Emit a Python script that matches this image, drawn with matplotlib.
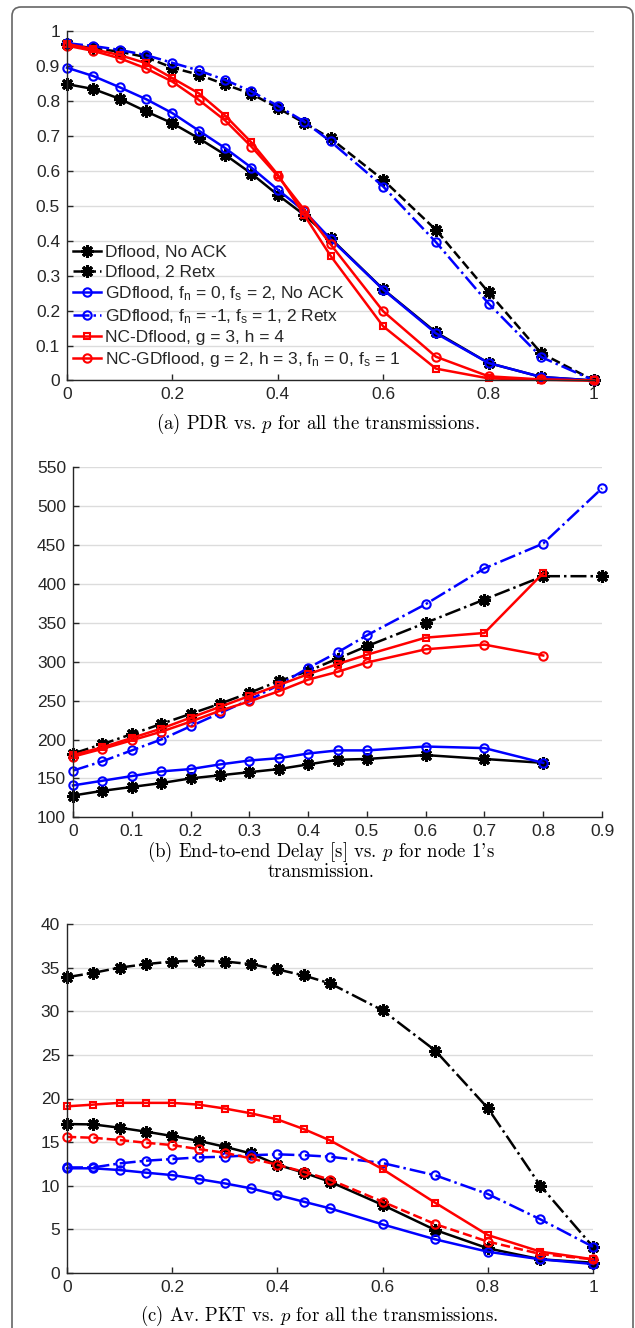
import matplotlib
matplotlib.use("Agg")
import matplotlib.pyplot as plt
from matplotlib.patches import FancyBboxPatch
from matplotlib.transforms import IdentityTransform

# p values
p_full = [0, 0.05, 0.1, 0.15, 0.2, 0.25, 0.3, 0.35, 0.4, 0.45, 0.5, 0.6, 0.7, 0.8, 0.9, 1.0]
p_delay = [0, 0.05, 0.1, 0.15, 0.2, 0.25, 0.3, 0.35, 0.4, 0.45, 0.5, 0.6, 0.7, 0.8]
p_delay_long = p_delay + [0.9]

# (a) PDR
pdr_dflood = [0.848, 0.834, 0.806, 0.770, 0.736, 0.693, 0.646, 0.592, 0.531, 0.474, 0.407, 0.261, 0.138, 0.050, 0.010, 0.0]
pdr_dflood_retx = [0.963, 0.950, 0.941, 0.925, 0.895, 0.875, 0.847, 0.820, 0.780, 0.737, 0.693, 0.574, 0.431, 0.252, 0.078, 0.0]
pdr_gd = [0.895, 0.871, 0.839, 0.805, 0.765, 0.715, 0.665, 0.609, 0.546, 0.485, 0.405, 0.260, 0.135, 0.050, 0.010, 0.0]
pdr_gd_retx = [0.965, 0.957, 0.946, 0.931, 0.909, 0.887, 0.860, 0.827, 0.786, 0.741, 0.684, 0.555, 0.396, 0.220, 0.067, 0.0]
pdr_nc = [0.963, 0.948, 0.931, 0.908, 0.865, 0.822, 0.758, 0.681, 0.589, 0.474, 0.357, 0.155, 0.034, 0.006, 0.002, 0.0]
pdr_ncgd = [0.958, 0.943, 0.922, 0.893, 0.855, 0.803, 0.744, 0.669, 0.585, 0.489, 0.390, 0.198, 0.068, 0.012, 0.003, 0.0]

# (b) delay
delay_dflood = [128, 134, 139, 144, 150, 154, 158, 162, 168, 174, 175, 180, 175, 170]
delay_dflood_retx = [182, 194, 207, 220, 233, 246, 260, 275, 288, 304, 320, 350, 380, 410, 410]
delay_gd = [141, 147, 153, 159, 162, 168, 173, 176, 182, 186, 186, 191, 189, 170]
delay_gd_retx = [160, 172, 186, 200, 217, 234, 251, 270, 292, 312, 334, 374, 420, 452, 523]
delay_nc = [180, 190, 202, 214, 228, 242, 256, 270, 284, 297, 309, 331, 337, 414]
delay_ncgd = [178, 188, 199, 210, 223, 237, 249, 262, 277, 287, 299, 316, 322, 308]

# (c) Av. PKT
pkt_dflood = [17.07, 17.03, 16.65, 16.2, 15.7, 15.15, 14.47, 13.7, 12.4, 11.5, 10.46, 7.8, 4.93, 2.83, 1.57, 1.18]
pkt_dflood_retx = [33.9, 34.4, 35.0, 35.4, 35.7, 35.8, 35.7, 35.4, 34.8, 34.1, 33.2, 30.1, 25.5, 18.9, 10.0, 3.0]
pkt_gd = [12.0, 12.0, 11.8, 11.5, 11.22, 10.77, 10.27, 9.7, 8.94, 8.17, 7.41, 5.57, 3.86, 2.44, 1.57, 1.03]
pkt_gd_retx = [12.1, 12.1, 12.56, 12.87, 13.06, 13.25, 13.33, 13.5, 13.6, 13.5, 13.33, 12.6, 11.2, 9.05, 6.15, 3.0]
pkt_nc = [19.1, 19.3, 19.5, 19.5, 19.5, 19.3, 18.85, 18.3, 17.6, 16.5, 15.2, 11.9, 8.05, 4.35, 2.45, 1.57]
pkt_ncgd = [15.6, 15.5, 15.24, 14.93, 14.66, 14.2, 13.78, 13.13, 12.4, 11.6, 10.7, 8.17, 5.6, 3.6, 2.18, 1.57]

labels = [
    "Dflood, No ACK",
    "Dflood, 2 Retx",
    r"GDflood, $\mathregular{f_n}$ = 0, $\mathregular{f_s}$ = 2, No ACK",
    r"GDflood, $\mathregular{f_n}$ = -1, $\mathregular{f_s}$ = 1, 2 Retx",
    "NC-Dflood, g = 3, h = 4",
    r"NC-GDflood, g = 2, h = 3, $\mathregular{f_n}$ = 0, $\mathregular{f_s}$ = 1",
]

plt.rcParams["font.family"] = ["Liberation Sans", "DejaVu Sans"]
plt.rcParams["mathtext.fontset"] = "cm"

TICK_COLOR = "#262626"
STAR = (8, 2, 0)


def style_axes(ax, xlim, ylim, xticks, yticks, xticklabels, yticklabels):
    ax.set_xlim(*xlim)
    ax.set_ylim(*ylim)
    ax.set_xticks(xticks)
    ax.set_yticks(yticks)
    ax.set_xticklabels(xticklabels)
    ax.set_yticklabels(yticklabels)
    for side in ("top", "right"):
        ax.spines[side].set_visible(False)
    for side in ("left", "bottom"):
        ax.spines[side].set_color(TICK_COLOR)
        ax.spines[side].set_linewidth(1.0)
    ax.tick_params(direction="in", length=4, width=1.0, colors=TICK_COLOR,
                   labelsize=12.5, pad=5)
    ax.yaxis.grid(True, color="#dcdcdc", linewidth=1.0)
    ax.set_axisbelow(True)


def draw(ax, x, y, color, ls, marker, ms, label=None):
    mew = 2.2 if marker == STAR else 1.5
    ax.plot(x, y, color=color, linestyle=ls, linewidth=1.8, marker=marker,
            markersize=ms, markerfacecolor="none" if marker != STAR else color,
            markeredgecolor=color, markeredgewidth=mew, clip_on=False,
            label=label)


fig = plt.figure(figsize=(6.35, 13.28), dpi=100)

frame = FancyBboxPatch((12, -30), 621, 1321 + 30,
                       boxstyle="round,pad=0,rounding_size=9",
                       transform=IdentityTransform(), facecolor="none",
                       edgecolor="#666666", linewidth=1.2)
fig.patches.append(frame)

H = 1328.0
W = 635.0


def axes_px(left, right, top, bottom):
    return fig.add_axes([left / W, 1 - bottom / H, (right - left) / W, (bottom - top) / H])


# (a)
ax_a = axes_px(67, 594, 31, 380.5)
draw(ax_a, p_full, pdr_dflood, "black", "-", STAR, 9, labels[0])
draw(ax_a, p_full, pdr_dflood_retx, "black", "--", STAR, 9, labels[1])
draw(ax_a, p_full, pdr_gd, "blue", "-", "o", 6, labels[2])
draw(ax_a, p_full, pdr_gd_retx, "blue", "-.", "o", 6, labels[3])
draw(ax_a, p_full, pdr_nc, "red", "-", "s", 5, labels[4])
draw(ax_a, p_full, pdr_ncgd, "red", "-", "o", 6, labels[5])
style_axes(ax_a, (0, 1), (0, 1), [0, 0.2, 0.4, 0.6, 0.8, 1],
           [i / 10 for i in range(11)],
           ["0", "0.2", "0.4", "0.6", "0.8", "1"],
           ["0"] + ["0.%d" % i for i in range(1, 10)] + ["1"])
leg = ax_a.legend(loc="lower left", bbox_to_anchor=(0.012, 0.034), frameon=False,
                  fontsize=12.5, handlelength=1.6, handletextpad=0.2,
                  labelspacing=0.25, borderpad=0, borderaxespad=0)
for t in leg.get_texts():
    t.set_color(TICK_COLOR)

# (b)
ax_b = axes_px(73, 602, 467.3, 817.3)
draw(ax_b, p_delay, delay_dflood, "black", "-", STAR, 9)
draw(ax_b, p_delay_long, delay_dflood_retx, "black", "-.", STAR, 9)
draw(ax_b, p_delay, delay_gd, "blue", "-", "o", 6)
draw(ax_b, p_delay_long, delay_gd_retx, "blue", "-.", "o", 6)
draw(ax_b, p_delay, delay_nc, "red", "-", "s", 5)
draw(ax_b, p_delay, delay_ncgd, "red", "-", "o", 6)
style_axes(ax_b, (0, 0.9), (100, 550), [i / 10 for i in range(10)],
           list(range(100, 551, 50)),
           ["0"] + ["0.%d" % i for i in range(1, 10)],
           [str(v) for v in range(100, 551, 50)])

# (c)
ax_c = axes_px(67, 593, 924, 1273)
draw(ax_c, p_full, pkt_dflood, "black", "-", STAR, 9)
draw(ax_c, p_full, pkt_dflood_retx, "black", "-.", STAR, 9)
draw(ax_c, p_full, pkt_gd, "blue", "-", "o", 6)
draw(ax_c, p_full, pkt_gd_retx, "blue", "-.", "o", 6)
draw(ax_c, p_full, pkt_nc, "red", "-", "s", 5)
draw(ax_c, p_full, pkt_ncgd, "red", "--", "o", 6)
style_axes(ax_c, (0, 1), (0, 40), [0, 0.2, 0.4, 0.6, 0.8, 1],
           list(range(0, 41, 5)),
           ["0", "0.2", "0.4", "0.6", "0.8", "1"],
           [str(v) for v in range(0, 41, 5)])

# captions
cap = dict(family="cmr10", fontsize=13.5, ha="center", va="center", color="black")
fig.text(318 / W, 1 - 423.5 / H, r"(a) PDR vs. $p$ for all the transmissions.", **cap)
fig.text(321 / W, 1 - 851.7 / H, r"(b) End-to-end Delay [s] vs. $p$ for node 1's", **cap)
fig.text(321 / W, 1 - 872 / H, "transmission.", **cap)
fig.text(319 / W, 1 - 1316 / H, r"(c) Av. PKT vs. $p$ for all the transmissions.", **cap)

fig.savefig("out.png", dpi=100)
